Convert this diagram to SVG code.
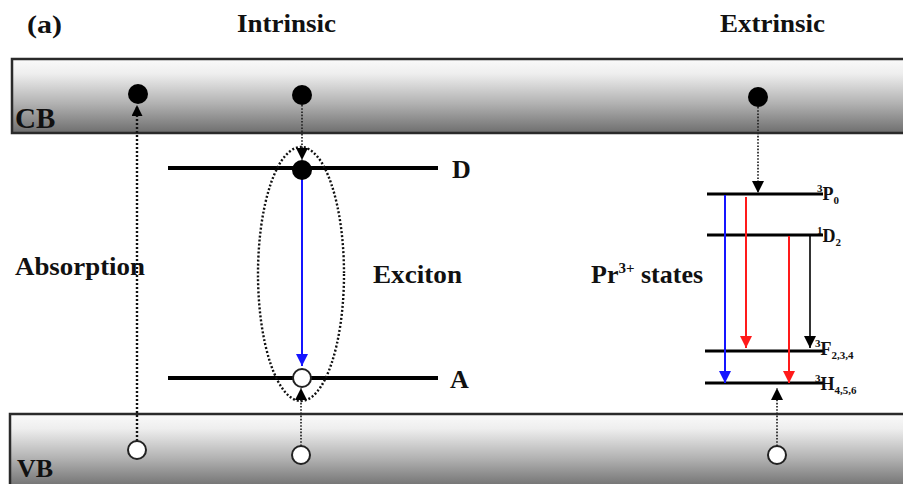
<svg xmlns="http://www.w3.org/2000/svg" width="903" height="484" viewBox="0 0 903 484">
<defs>
<linearGradient id="band" x1="0" y1="0" x2="0" y2="1">
<stop offset="0" stop-color="#fafafa"/>
<stop offset="0.2" stop-color="#eeeeee"/>
<stop offset="0.6" stop-color="#b2b2b2"/>
<stop offset="1" stop-color="#6e6e6e"/>
</linearGradient>
<linearGradient id="bandV" gradientUnits="userSpaceOnUse" x1="0" y1="414" x2="0" y2="488">
<stop offset="0" stop-color="#fafafa"/>
<stop offset="0.2" stop-color="#eeeeee"/>
<stop offset="0.6" stop-color="#b2b2b2"/>
<stop offset="1" stop-color="#6e6e6e"/>
</linearGradient>
<marker id="ahK" viewBox="0 0 12 12" refX="12" refY="6" markerWidth="13" markerHeight="12" markerUnits="userSpaceOnUse" orient="auto"><path d="M0,0 L12,6 L0,12 z" fill="#000"/></marker>
<marker id="ahS" viewBox="0 0 12 12" refX="12" refY="6" markerWidth="12" markerHeight="11" markerUnits="userSpaceOnUse" orient="auto"><path d="M0,0 L12,6 L0,12 z" fill="#000"/></marker>
<marker id="ahB" viewBox="0 0 12 12" refX="12" refY="6" markerWidth="13" markerHeight="12" markerUnits="userSpaceOnUse" orient="auto"><path d="M0,0 L12,6 L0,12 z" fill="#1515ff"/></marker>
<marker id="ahR" viewBox="0 0 12 12" refX="12" refY="6" markerWidth="13" markerHeight="12" markerUnits="userSpaceOnUse" orient="auto"><path d="M0,0 L12,6 L0,12 z" fill="#ff1a1a"/></marker>
</defs>
<style>
text{font-family:"Liberation Serif","Times New Roman",serif;font-weight:bold;fill:#111}
.big{font-size:26px}
.lv{font-size:18px}
.sm{font-size:11px}
.band{stroke:#2a2a2a;stroke-width:2.5}
.level{stroke:#000;stroke-width:4}
.plevel{stroke:#000;stroke-width:3}
.dot{stroke:#222;stroke-width:1.7;stroke-dasharray:1.6 1.6;fill:none}
.dotw{stroke:#111;stroke-width:2.4;stroke-dasharray:2 2;fill:none}
.e{fill:#000}
.h{fill:#fff;stroke:#222;stroke-width:2}
</style>

<g id="titles">
<text class="big" x="27" y="33" textLength="35" lengthAdjust="spacingAndGlyphs">(a)</text>
<text class="big" x="237" y="32" textLength="99" lengthAdjust="spacingAndGlyphs">Intrinsic</text>
<text class="big" x="720" y="32" textLength="105" lengthAdjust="spacingAndGlyphs">Extrinsic</text>
</g>

<g id="CB">
<rect class="band" x="12" y="59" width="900" height="74" fill="url(#band)"/>
<text class="big" x="15" y="128" style="font-size:29px">CB</text>
</g>

<g id="VB">
<rect class="band" x="10" y="414" width="900" height="80" fill="url(#bandV)"/>
<text class="big" x="17" y="477" style="font-size:26px">VB</text>
</g>

<g id="D-level">
<line class="level" x1="168" y1="168" x2="438" y2="168"/>
<text class="big" x="452" y="178">D</text>
</g>

<g id="A-level">
<line class="level" x1="168" y1="378" x2="438" y2="378"/>
<text class="big" x="450" y="388">A</text>
</g>

<g id="exciton">
<ellipse class="dotw" cx="301" cy="274" rx="43" ry="127"/>
<text class="big" x="373" y="283" textLength="89" lengthAdjust="spacingAndGlyphs">Exciton</text>
</g>

<g id="absorption-label">
<text class="big" x="15" y="275" textLength="130" lengthAdjust="spacingAndGlyphs">Absorption</text>
</g>

<g id="Pr-label">
<text class="big" x="591" y="283">Pr<tspan dy="-10" style="font-size:15px">3+</tspan><tspan dy="10"> states</tspan></text>
</g>

<g id="level-3P0">
<line class="plevel" x1="707" y1="194" x2="823" y2="194"/>
<text x="817" y="200"><tspan class="sm" dy="-8">3</tspan><tspan class="lv" dy="8">P</tspan><tspan class="sm" dy="4">0</tspan></text>
</g>
<g id="level-1D2">
<line class="plevel" x1="707" y1="235" x2="823" y2="235"/>
<text x="817" y="242"><tspan class="sm" dy="-8">1</tspan><tspan class="lv" dy="8">D</tspan><tspan class="sm" dy="4">2</tspan></text>
</g>
<g id="level-3F">
<line class="plevel" x1="705" y1="351" x2="823" y2="351"/>
<text x="815" y="355"><tspan class="sm" dy="-8">3</tspan><tspan class="lv" dy="8">F</tspan><tspan class="sm" dy="4">2,3,4</tspan></text>
</g>
<g id="level-3H">
<line class="plevel" x1="705" y1="383" x2="823" y2="383"/>
<text x="815" y="390"><tspan class="sm" dy="-8">3</tspan><tspan class="lv" dy="8">H</tspan><tspan class="sm" dy="4">4,5,6</tspan></text>
</g>

<g id="connectors">
<line class="dotw" x1="137" y1="441" x2="137" y2="105" marker-end="url(#ahS)"/>
<line class="dot" x1="302" y1="105" x2="302" y2="160" marker-end="url(#ahK)"/>
<line x1="302" y1="178" x2="302" y2="366" stroke="#1515ff" stroke-width="2" marker-end="url(#ahB)"/>
<line class="dot" x1="301" y1="446" x2="301" y2="388" marker-end="url(#ahK)"/>
<line class="dot" x1="758" y1="107" x2="758" y2="193" marker-end="url(#ahK)"/>
<line x1="725" y1="195" x2="725" y2="383" stroke="#1515ff" stroke-width="2" marker-end="url(#ahB)"/>
<line x1="746" y1="197" x2="746" y2="348" stroke="#ff1a1a" stroke-width="2" marker-end="url(#ahR)"/>
<line x1="789" y1="236" x2="789" y2="383" stroke="#ff1a1a" stroke-width="2" marker-end="url(#ahR)"/>
<line x1="810" y1="236" x2="810" y2="348" stroke="#000" stroke-width="1.6" marker-end="url(#ahK)"/>
<line class="dot" x1="777" y1="446" x2="777" y2="388" marker-end="url(#ahK)"/>
</g>

<g id="carriers">
<circle class="e" cx="138" cy="94" r="10"/>
<circle class="e" cx="302" cy="95" r="10"/>
<circle class="e" cx="302" cy="170" r="10"/>
<circle class="e" cx="758" cy="97" r="10"/>
<circle class="h" cx="137" cy="450" r="9"/>
<circle class="h" cx="302" cy="378" r="9"/>
<circle class="h" cx="301" cy="455" r="9"/>
<circle class="h" cx="777" cy="455" r="9"/>
</g>
</svg>
